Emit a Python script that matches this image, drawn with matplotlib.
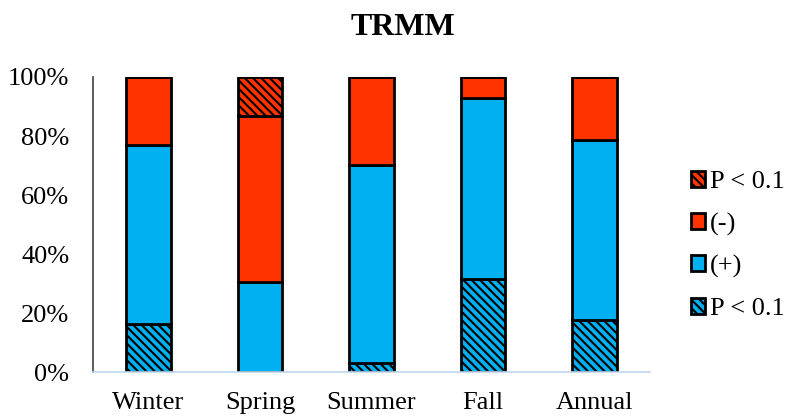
import numpy as np
import matplotlib.pyplot as plt

# ==============================
# Data (share of each class, %)
# ==============================

seasons = ["Winter", "Spring", "Summer", "Fall", "Annual"]
pos_sig = [16.5, 0.0, 3.0, 31.5, 17.6]     # (+) with P < 0.1
pos = [60.5, 30.6, 67.2, 61.5, 61.0]       # (+)
neg = [23.0, 56.3, 29.8, 7.0, 21.4]        # (-)
neg_sig = [0.0, 13.1, 0.0, 0.0, 0.0]       # (-) with P < 0.1

blue = "#00B0F0"
red = "#FF3300"

plt.rcParams["font.family"] = ["Liberation Serif", "DejaVu Serif"]
plt.rcParams["hatch.linewidth"] = 1.5

fig, ax = plt.subplots(figsize=(7.87, 4.16), dpi=100)
fig.subplots_adjust(left=0.118, right=0.826, top=0.815, bottom=0.105)

x = np.arange(len(seasons))
w = 0.4
kw = dict(width=w, edgecolor="black", linewidth=2)

bottom = np.zeros(len(seasons))
b1 = ax.bar(x, pos_sig, bottom=bottom, color=blue, hatch="\\\\\\\\", **kw)
bottom += pos_sig
b2 = ax.bar(x, pos, bottom=bottom, color=blue, **kw)
bottom += pos
b3 = ax.bar(x, neg, bottom=bottom, color=red, **kw)
bottom += neg
b4 = ax.bar(x, neg_sig, bottom=bottom, color=red, hatch="\\\\\\\\", **kw)

ax.set_xlim(-0.5, len(seasons) - 0.5)
ax.set_ylim(0, 100)
ax.set_yticks(range(0, 101, 20))
ax.set_yticklabels([f"{v}%" for v in range(0, 101, 20)], fontsize=19)
ax.set_xticks(x)
ax.set_xticklabels(seasons, fontsize=19)
ax.tick_params(axis="x", length=0, pad=14)
ax.tick_params(axis="y", length=0, pad=17)

ax.spines["top"].set_visible(False)
ax.spines["right"].set_visible(False)
ax.spines["left"].set_color("#404040")
ax.spines["left"].set_linewidth(1.2)
ax.spines["bottom"].set_color("#BDD7EE")
ax.spines["bottom"].set_linewidth(1.2)

ax.set_title("TRMM", fontsize=23, fontweight="bold", pad=30, x=0.557)

ax.legend([b4, b3, b2, b1], ["P < 0.1", "(-)", "(+)", "P < 0.1"],
          loc="center left", bbox_to_anchor=(1.03, 0.43), frameon=False,
          fontsize=19, handlelength=0.55, handleheight=0.55,
          handletextpad=0.2, labelspacing=0.74)

plt.savefig("out.png", dpi=100)
